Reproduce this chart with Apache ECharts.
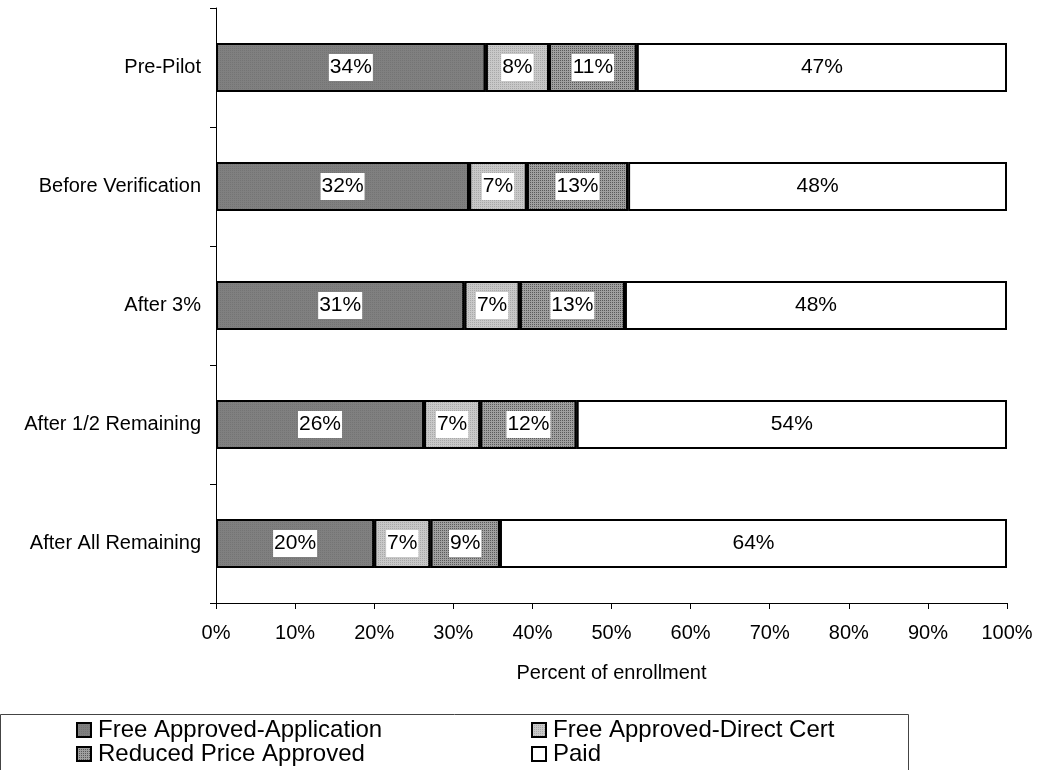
<!DOCTYPE html>
<html>
<head>
<meta charset="utf-8">
<title>Enrollment by approval status</title>
<script src="https://cdn.jsdelivr.net/npm/echarts@6/dist/echarts.min.js"></script>
<style>
  html, body { margin: 0; padding: 0; background: #fff; }
  #chart { width: 1037px; height: 770px; }
</style>
</head>
<body>
<div id="chart"></div>
<script>
// Stages of the verification pilot, top to bottom
const categories = ['Pre-Pilot', 'Before Verification', 'After 3%', 'After 1/2 Remaining', 'After All Remaining'];

// Share of enrollment (%) in each status, per stage
const freeApplication = [34.1, 32.0, 31.4, 26.3, 20.0];
const freeDirectCert  = [8.0, 7.3, 7.0, 7.1, 7.1];
const reducedPrice    = [11.1, 12.8, 13.3, 12.2, 8.8];
const paid            = [46.8, 47.9, 48.3, 54.4, 64.1];

const xTicks = [0, 10, 20, 30, 40, 50, 60, 70, 80, 90, 100];

const FONT = '"Liberation Sans", Arial, sans-serif';

const chart = echarts.init(document.getElementById('chart'), null, { renderer: 'canvas' });

function stipple(dotColor) {
  return {
    symbol: 'rect',
    symbolSize: 1,
    dashArrayX: [1, 1],
    dashArrayY: [1, 1],
    color: dotColor
  };
}

function barSeries(name, data, fill, dots) {
  return {
    name: name,
    type: 'bar',
    stack: 'total',
    data: data,
    barWidth: 49,
    itemStyle: {
      color: fill,
      borderColor: '#000',
      borderWidth: 2,
      decal: dots ? stipple(dots) : null
    },
    label: {
      show: true,
      position: 'inside',
      formatter: p => Math.round(p.value) + '%',
      color: '#000',
      fontFamily: FONT,
      fontSize: 21,
      lineHeight: 22,
      backgroundColor: '#fff',
      padding: [3, 1, 2, 1]
    },
    emphasis: { disabled: true }
  };
}

const legendText = {
  color: '#000',
  fontFamily: FONT,
  fontSize: 24,
  lineHeight: 24,
  padding: [0, 0, 0, 2]
};

function legendColumn(names, left) {
  return {
    data: names,
    orient: 'vertical',
    left: left,
    top: 718,
    padding: 0,
    height: 52,
    itemWidth: 14,
    itemHeight: 14,
    itemGap: 0,
    icon: 'rect',
    textStyle: legendText,
    selectedMode: false
  };
}

chart.setOption({
  animation: false,
  backgroundColor: '#fff',
  grid: { left: 216, right: 30, top: 8, bottom: 167 },
  xAxis: {
    type: 'value',
    min: 0,
    max: 100,
    interval: 10,
    name: 'Percent of enrollment',
    nameLocation: 'middle',
    nameGap: 60,
    nameTextStyle: { color: '#000', fontFamily: FONT, fontSize: 20 },
    axisLine: { show: true, lineStyle: { color: '#000', width: 1 } },
    axisTick: { show: true, length: 6, lineStyle: { color: '#000' } },
    axisLabel: {
      color: '#000',
      fontFamily: FONT,
      fontSize: 20,
      margin: 20,
      formatter: v => (xTicks.indexOf(v) >= 0 ? v + '%' : '')
    },
    splitLine: { show: false }
  },
  yAxis: {
    type: 'category',
    data: categories,
    inverse: true,
    axisLine: { show: true, lineStyle: { color: '#000', width: 1 } },
    axisTick: { show: true, length: 6, alignWithLabel: false, lineStyle: { color: '#000' } },
    axisLabel: { color: '#000', fontFamily: FONT, fontSize: 20, margin: 15 }
  },
  legend: [
    legendColumn(['Free Approved-Application', 'Reduced Price Approved'], 76),
    legendColumn(['Free Approved-Direct Cert', 'Paid'], 531)
  ],
  graphic: [
    {
      type: 'rect',
      shape: { x: 0.5, y: 714.5, width: 908, height: 70 },
      style: { fill: 'none', stroke: '#444', lineWidth: 1 },
      z: -1
    }
  ],
  series: [
    barSeries('Free Approved-Application', freeApplication, '#808080', '#747474'),
    barSeries('Free Approved-Direct Cert', freeDirectCert, '#c8c8c8', '#a8a8a8'),
    barSeries('Reduced Price Approved', reducedPrice, '#a0a0a0', '#5a5a5a'),
    barSeries('Paid', paid, '#ffffff', null)
  ]
});
</script>
</body>
</html>
